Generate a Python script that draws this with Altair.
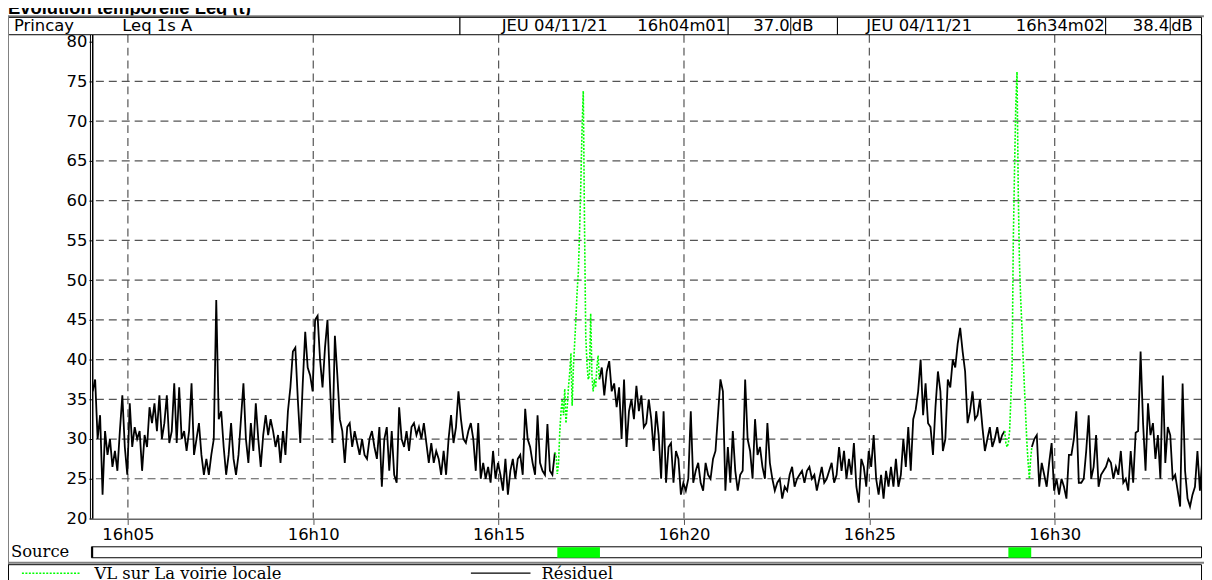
import altair as alt
import pandas as pd

# ---------------- data ----------------
# Leq 1s dB(A); times are seconds after 16h04m01, residual sampled every 4 s
T_ORIGIN = 241          # 16h04m01 expressed in seconds after 16h00
RES_STEP = 4
RES_A_START = 2
RES_A = [
    36, 37.5, 30, 33, 23, 31, 28, 30,
    26.5, 28.5, 26, 31, 35.5, 29, 25.5, 34.5,
    29, 31.5, 30, 31, 26, 30.5, 29, 34,
    32, 34.5, 31, 35.5, 30, 32, 35.5, 29.5,
    31, 37, 29.5, 36.5, 30, 31, 28.5, 31,
    37, 28, 30, 32, 28, 25.5, 27.5, 25.5,
    28, 30, 47.5, 32.5, 33.5, 29, 25.5, 28,
    32, 27.5, 25.5, 28, 32.5, 37, 30, 27,
    32, 28.5, 34.5, 30, 26.5, 30.5, 33, 30.5,
    32.5, 31, 29, 30.5, 27, 31, 28, 33.5,
    36.5, 41, 41.5, 35, 29.5, 37, 43.5, 39,
    38, 36, 45, 45.5, 40, 36.5, 41.5, 45,
    37, 29.5, 43, 38, 32.5, 31, 27, 31.5,
    32, 29, 31, 29.5, 28, 30, 28, 27.5,
    30, 31, 29, 27.5, 31.5, 24, 30, 31.5,
    26, 31, 25.5, 24.5, 34, 30, 29, 31,
    28.5, 31.5, 32, 30.5, 31.5, 30, 32, 29.5,
    27, 29.5, 27, 28.5, 27.5, 25.5, 28.5, 25.5,
    30, 33, 29.5, 31.5, 36, 32.5, 30, 29.5,
    31, 32, 30, 26, 32, 25, 27, 25,
    26.5, 24.5, 28.5, 25, 27, 25.5, 23.5, 27.5,
    23, 26, 27.5, 25, 27.5, 28, 25.5, 33.8,
    30, 29, 27, 25.5, 33, 27, 26, 25.5,
    31.9, 26, 25.5, 28.3,
]
RES_B_START = 822
RES_B = [
    37.5, 39, 35.5, 38.5, 39.8, 36, 37, 34,
    36.5, 30, 37.5, 29, 33.5, 35, 32.5, 36.7,
    33.5, 35.5, 31.5,
    32, 35, 32.5, 28.5, 33.5, 30.5, 25, 33.5,
    24.5, 29, 29.5, 24.5, 28.5, 27.5, 23, 24.5,
    23.5, 25, 33.5, 24.5, 26, 27, 24.5, 23.5,
    27, 25.5, 25, 27.5, 28.5, 33, 37.5, 36,
    23.5, 29, 24.5, 31, 26, 23.5, 25.5, 26,
    37.5, 30, 28.5, 25, 32.5, 28, 29, 26.5,
    25, 32, 27, 25, 23.5, 24.5, 25, 22.5,
    24,
    23.5, 25.5, 26.5, 24, 25, 25.5, 26, 24.5,
    26, 26.5, 25, 25.5, 23.5, 25, 26.5, 24.5,
    25, 26, 27, 24.5, 25.5, 29, 26, 28.5,
    25, 27.5, 25.5, 29.5, 24, 22, 27.5, 26.5,
    24, 28.5, 26.5, 30.5, 25, 23, 25.5, 22.5,
    26, 24, 26.5, 24, 27.5, 24, 25.5, 30,
    26.5, 31.5, 26, 32.5, 33.7, 36, 40, 33,
    37, 32, 31.5, 28, 34, 38.5, 36, 28.5,
    30, 37.5, 36.5, 40, 39, 42, 44, 41,
    38.5, 32, 33.5, 36, 32.5, 33, 35, 31.5,
    28.5, 30, 31.5, 29, 30, 31.5, 29.5, 30.5,
    31,
]
RES_C_START = 1522
RES_C = [
    29, 30, 30.5, 24, 27, 25.5, 24, 27,
    29.5, 23.5, 25, 23, 25,
    24, 22.5, 28, 28, 30, 33.5, 24.5, 24.5,
    25, 28.5, 33, 25, 26.5, 30.5, 24, 25.5,
    26, 26.5, 27.5, 27, 25, 26.5, 25.5, 28.5,
    24.5, 25, 23.5, 28.5, 24.5, 30.8, 31, 41,
    32, 26, 34.5, 30.5, 32, 27.5, 30.5, 25,
    38, 27, 31.5, 30.5, 25, 25.5, 23.5, 21.5,
    37, 26, 22.5, 21.5, 23, 24, 28.5, 23.5,
    27.5,
]
# "VL sur La voirie locale" passages, sampled every 2 s
VL_STEP = 2
VL_1_START = 750
VL_1 = [
    28.3, 28, 25.6, 27, 31, 33.5, 35, 33,
    36.3, 32, 34, 36.5, 38.3, 40.8, 34.2, 39,
    42, 45, 48.5, 51, 56, 62, 69, 73.8,
    57, 43, 39.5, 37.5, 38, 45.8, 38, 36,
    37.5, 36.5, 39, 40.5, 37.5,
]
VL_2_START = 1478
VL_2 = [
    31, 29.5, 29, 29.5, 31, 35, 39, 55,
    64, 72, 76.2, 61, 52, 47.5, 44, 40,
    36.5, 33, 29.5, 27, 25, 27.5, 29,
]
assert len(RES_A) == 188, len(RES_A)
assert len(RES_B) == 165, len(RES_B)
assert len(RES_C) == 70, len(RES_C)
assert len(VL_1) == 37 and len(VL_2) == 23

SOURCE_FROM = [995, 1725]   # seconds after 16h00
SOURCE_TO = [1064, 1762]
X_TICKS = [300, 600, 900, 1200, 1500, 1800]
Y_TICKS = [20, 25, 30, 35, 40, 45, 50, 55, 60, 65, 70, 75, 80]
GRID_Y = [25, 30, 35, 40, 45, 50, 55, 60, 65, 70, 75]

TITLE = "Evolution temporelle Leq (t)"
SITE = "Princay"
MEASURE = "Leq 1s  A"
START_DATE, START_TIME, START_LEQ = "JEU 04/11/21", "16h04m01", "37.0"
END_DATE, END_TIME, END_LEQ = "JEU 04/11/21", "16h34m02", "38.4"
UNIT = "dB"
SOURCE_LABEL = "Source"
LEG_VL = "VL sur La voirie locale"
LEG_RES = "Résiduel"


def series(vals, start, step, seg):
    return pd.DataFrame({
        "s": [T_ORIGIN + start + i * step for i in range(len(vals))],
        "v": vals,
        "seg": seg,
    })


res = pd.concat([series(RES_A, RES_A_START, RES_STEP, "a"),
                 series(RES_B, RES_B_START, RES_STEP, "b"),
                 series(RES_C, RES_C_START, RES_STEP, "c")], ignore_index=True)
vl = pd.concat([series(VL_1, VL_1_START, VL_STEP, "1"),
                series(VL_2, VL_2_START, VL_STEP, "2")], ignore_index=True)
src = pd.DataFrame({"a": SOURCE_FROM, "b": SOURCE_TO})

# ---------------- layout ----------------
SANS = "DejaVu Sans"
SERIF = "DejaVu Serif"
W, H = 1117, 487
PAD = {"left": 84.5, "top": 25, "right": 2.5, "bottom": 60}
OX, OY = 8 + PAD["left"], 8 + PAD["top"]   # page position of plot origin
GREEN = "#00ff00"
GRIDC = "#555555"

XS = alt.Scale(domain=[241.8, 2037.6], nice=False, zero=False)
YS = alt.Scale(domain=[20, 80.875], nice=False, zero=False)
X_AXIS = alt.Axis(values=X_TICKS, title=None, grid=False, domain=False,
                  labelExpr="'16h' + (datum.value < 600 ? '0' : '') + format(datum.value / 60, 'd')",
                  tickSize=6, tickColor=GRIDC, tickWidth=1, labelFont=SANS, labelFontSize=16.5,
                  labelColor="black", labelPadding=2, labelFlush=False, labelOverlap=False)
Y_AXIS = alt.Axis(values=Y_TICKS, title=None, grid=False, domain=False, tickSize=3,
                  tickColor="black", labelFont=SANS, labelFontSize=16.5, labelColor="black",
                  labelPadding=2, labelOverlap=False, labelFlush=False)

ONE = pd.DataFrame({"k": [0]})


def px(X):
    return X - OX


def py(Y):
    return Y - OY


def txt(s, X, Y, size=16.5, font=SANS, align="left", weight="normal", baseline="middle"):
    return alt.Chart(ONE).mark_text(text=s, align=align, baseline=baseline, font=font,
                                    fontSize=size, fontWeight=weight, color="black").encode(
        x=alt.value(px(X)), y=alt.value(py(Y)))


def box(X1, Y1, X2, Y2, fill="white", stroke="black", sw=1, fo=1):
    return alt.Chart(ONE).mark_rect(fill=fill, fillOpacity=fo, stroke=stroke, strokeWidth=sw).encode(
        x=alt.value(px(X1)), x2=alt.value(px(X2)), y=alt.value(py(Y1)), y2=alt.value(py(Y2)))


def seg(X1, Y1, X2, Y2, color="black", sw=1, dash=None):
    kw = dict(color=color, strokeWidth=sw)
    if dash:
        kw["strokeDash"] = dash
    return alt.Chart(ONE).mark_rule(**kw).encode(
        x=alt.value(px(X1)), x2=alt.value(px(X2)), y=alt.value(py(Y1)), y2=alt.value(py(Y2)))


grid_h = alt.Chart(pd.DataFrame({"v": GRID_Y})).mark_rule(
    color=GRIDC, strokeWidth=1.2, strokeDash=[8, 5]).encode(
    y=alt.Y("v:Q", scale=YS, axis=Y_AXIS))
grid_v = alt.Chart(pd.DataFrame({"s": X_TICKS})).mark_rule(
    color=GRIDC, strokeWidth=1.2, strokeDash=[8, 5]).encode(
    x=alt.X("s:Q", scale=XS, axis=X_AXIS))

res_line = alt.Chart(res).mark_line(color="black", strokeWidth=1.8, clip=True).encode(
    x=alt.X("s:Q", scale=XS, axis=X_AXIS),
    y=alt.Y("v:Q", scale=YS, axis=Y_AXIS),
    detail="seg:N")
vl_line = alt.Chart(vl).mark_line(color=GREEN, strokeWidth=1.6, strokeDash=[2, 1.5], clip=True).encode(
    x=alt.X("s:Q", scale=XS, axis=X_AXIS),
    y=alt.Y("v:Q", scale=YS, axis=Y_AXIS),
    detail="seg:N")

src_bars = alt.Chart(src).mark_rect(color=GREEN).encode(
    x=alt.X("a:Q", scale=XS, axis=X_AXIS), x2="b:Q",
    y=alt.value(py(549)), y2=alt.value(py(559.5)))

HY = 24.5
layers = [
    grid_h, grid_v, res_line, vl_line,
    # plot frame
    seg(91, 33, 91, 521, sw=1),
    seg(93.3, 33, 93.3, 521, sw=1.5),
    seg(91, 520.7, 1209.5, 520.7, color="#666666", sw=1.5),
    seg(1209.5, 33, 1209.5, 521, sw=1.2),
    # title (cut at top in the reference)
    txt(TITLE, 8, 12.5, size=18.5, font="Liberation Sans", weight="bold", baseline="alphabetic"),
    # header row
    seg(8, 14.5, 1212, 14.5, color="#808080", sw=2),
    box(8.5, 15.5, 463, 33),
    box(463, 15.5, 733, 33),
    box(733, 15.5, 843, 33),
    box(843, 15.5, 1113, 33),
    box(1113, 15.5, 1209.5, 33),
    seg(796, 15.5, 796, 33),
    seg(1178, 15.5, 1178, 33),
    txt(SITE, 14, HY),
    txt(MEASURE, 123, HY),
    txt(START_DATE, 505, HY),
    txt(START_TIME, 731, HY, align="right"),
    txt(START_LEQ, 795, HY, align="right"),
    txt(UNIT, 797, HY),
    txt(END_DATE, 872, HY),
    txt(END_TIME, 1112, HY, align="right"),
    txt(END_LEQ, 1177, HY, align="right"),
    txt(UNIT, 1179, HY),
    # outer frame
    seg(8, 14, 8, 580, color="#808080", sw=2),
    # source row
    txt(SOURCE_LABEL, 11, 554, font=SERIF),
    box(92, 548.5, 1209.5, 559.5),
    src_bars,
    seg(93, 548.5, 93, 559.5, sw=1.5),
    # legend row
    seg(8, 564.5, 1212, 564.5, color="#808080", sw=2),
    box(8.5, 566.5, 1209.5, 600, fo=0),
    seg(22, 575, 80, 575, color=GREEN, sw=1.5, dash=[2, 1.5]),
    txt(LEG_VL, 95, 575.5, font=SERIF),
    seg(474, 575, 534, 575, sw=1.2),
    txt(LEG_RES, 545, 575.5, font=SERIF),
]

chart = alt.layer(*layers).properties(
    width=W, height=H,
    autosize=alt.AutoSizeParams(type="none"),
    padding=PAD,
).configure(background="white").configure_view(stroke=None)

chart.save("out.html", embed_options={"renderer": "svg", "actions": False})
